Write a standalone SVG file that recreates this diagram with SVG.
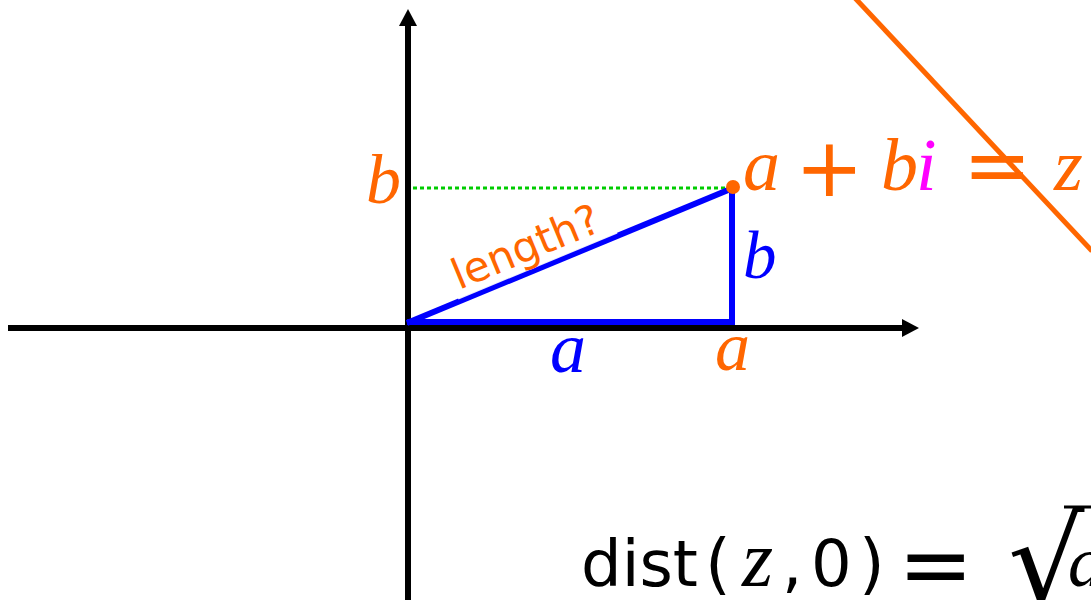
<svg xmlns="http://www.w3.org/2000/svg" width="1091" height="600" viewBox="0 0 1091 600">
<defs>
<style>
.axis{stroke:#000;stroke-width:6;fill:none}
.tri{stroke:#0000ff;stroke-width:6;fill:none;stroke-linecap:butt}
.guide{stroke:#00cc00;stroke-width:3;stroke-dasharray:4 3;fill:none}
.mi{font-family:"Liberation Serif",serif;font-style:italic}
.op{font-family:"DejaVu Sans",sans-serif}
.or{fill:#ff6600}
.bl{fill:#0000ff}
</style>
<marker id="ah" viewBox="0 0 17 18" refX="0" refY="9" markerWidth="17" markerHeight="18" markerUnits="userSpaceOnUse" orient="auto">
<path d="M0,0 L17,9 L0,18 z" fill="#000"/>
</marker>
</defs>
<rect width="1091" height="600" fill="#fff"/>
<g id="connectors">
<line class="axis" x1="8" y1="328" x2="902" y2="328" marker-end="url(#ah)"/>
<line class="axis" x1="408" y1="600" x2="408" y2="26" marker-end="url(#ah)"/>
<line x1="855" y1="-2" x2="1092" y2="251" stroke="#ff6600" stroke-width="5"/>
<path class="guide" d="M413,188 H733 V322"/>
<line class="tri" x1="407" y1="322" x2="735" y2="322"/>
<line class="tri" x1="732" y1="325" x2="732" y2="188"/>
<line class="tri" x1="407" y1="323" x2="733" y2="188"/>
</g>
<g id="point-z">
<circle cx="733" cy="187" r="7" fill="#ff6600"/>
</g>
<g id="label-length" transform="translate(459,290) rotate(-22.5)">
<rect x="-4" y="-40" width="172" height="48.5" fill="#fff" fill-opacity="0.92"/>
<text x="0" y="0" font-family="DejaVu Sans, sans-serif" font-size="42" class="or">length?</text>
</g>
<g id="label-b-axis"><text class="mi or" x="366" y="203" font-size="70">b</text></g>
<g id="label-b-side"><text class="mi bl" x="743" y="278" font-size="67">b</text></g>
<g id="label-a-side"><text class="mi bl" x="550" y="372" font-size="72">a</text></g>
<g id="label-a-axis"><text class="mi or" x="715" y="370" font-size="70">a</text></g>
<g id="label-z">
<text class="mi or" x="743" y="190" font-size="74">a</text>
<text class="op or" x="795" y="196" font-size="82">+</text>
<text class="mi or" x="881" y="190" font-size="74">b</text>
<text class="mi" x="916" y="190" font-size="74" fill="#ff00ff">i</text>
<text class="op or" x="963" y="193" font-size="82">=</text>
<text class="mi or" x="1054" y="190" font-size="74">z</text>
</g>
<g id="formula-dist">
<text class="op" x="581" y="586" font-size="64" fill="#000">dist</text>
<text class="op" x="705" y="586" font-size="66" fill="#000">(</text>
<text class="mi" x="742" y="586" font-size="80" fill="#000">z</text>
<text class="op" x="782" y="586" font-size="64" fill="#000">,</text>
<text class="op" x="811" y="586" font-size="64" fill="#000">0</text>
<text class="op" x="859" y="586" font-size="66" fill="#000">)</text>
<text class="op" x="898" y="596" font-size="90" fill="#000">=</text>
<text class="op" x="1008" y="604" font-size="120" fill="#000">√</text>
<line x1="1064" y1="507" x2="1091" y2="507" stroke="#000" stroke-width="3"/>
<text class="mi" x="1068" y="586" font-size="72" fill="#000">a</text>
</g>
</svg>
